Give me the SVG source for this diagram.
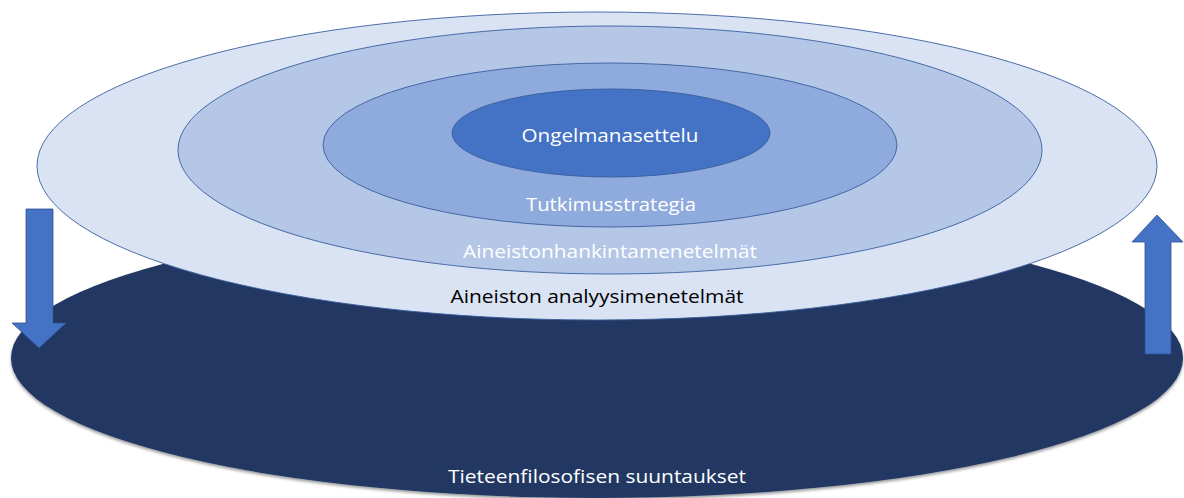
<svg xmlns="http://www.w3.org/2000/svg" width="1184" height="498" viewBox="0 0 1184 498">
<defs>
<filter id="sh" x="-5%" y="-10%" width="110%" height="125%">
<feGaussianBlur in="SourceAlpha" stdDeviation="1.5"/>
<feOffset dx="0" dy="2" result="b"/>
<feFlood flood-color="#000" flood-opacity="0.4"/>
<feComposite in2="b" operator="in"/>
<feMerge><feMergeNode/><feMergeNode in="SourceGraphic"/></feMerge>
</filter>
</defs>
<style>
.ring{stroke:#3A5F9E;stroke-width:0.9}
.arrow{fill:#4472C4;stroke:#2F528F;stroke-width:0.8}
text{font-family:"Open Sans","Liberation Sans","DejaVu Sans",sans-serif;font-size:19px;text-anchor:middle}
.w{fill:#ffffff}
.k{fill:#000000}
</style>
<g id="base">
<ellipse cx="597" cy="358" rx="586" ry="140" fill="#203864" filter="url(#sh)"/>
<text class="w" x="597" y="483" textLength="298" lengthAdjust="spacingAndGlyphs">Tieteenfilosofisen suuntaukset</text>
</g>
<g id="outer">
<ellipse class="ring" cx="597" cy="166" rx="560" ry="154" fill="#DAE3F3"/>
<text class="k" x="597" y="303" textLength="293" lengthAdjust="spacingAndGlyphs">Aineiston analyysimenetelmät</text>
</g>
<g id="second">
<ellipse class="ring" cx="610" cy="150" rx="432" ry="124" fill="#B4C7E7"/>
<text class="w" x="610" y="258" textLength="294" lengthAdjust="spacingAndGlyphs">Aineistonhankintamenetelmät</text>
</g>
<g id="third">
<ellipse class="ring" cx="610" cy="145" rx="287" ry="82" fill="#8FAADC"/>
<text class="w" x="611" y="211" textLength="170" lengthAdjust="spacingAndGlyphs">Tutkimusstrategia</text>
</g>
<g id="inner">
<ellipse class="ring" cx="611" cy="133" rx="159" ry="44" fill="#4472C4"/>
<text class="w" x="610" y="142" textLength="177" lengthAdjust="spacingAndGlyphs">Ongelmanasettelu</text>
</g>
<g id="connectors">
<polygon class="arrow" points="26,209 53,209 53,323 66,323 39,348 12,323 26,323"/>
<polygon class="arrow" points="1145,354 1171,354 1171,242 1183,242 1157,215 1132,242 1145,242"/>
</g>
</svg>
